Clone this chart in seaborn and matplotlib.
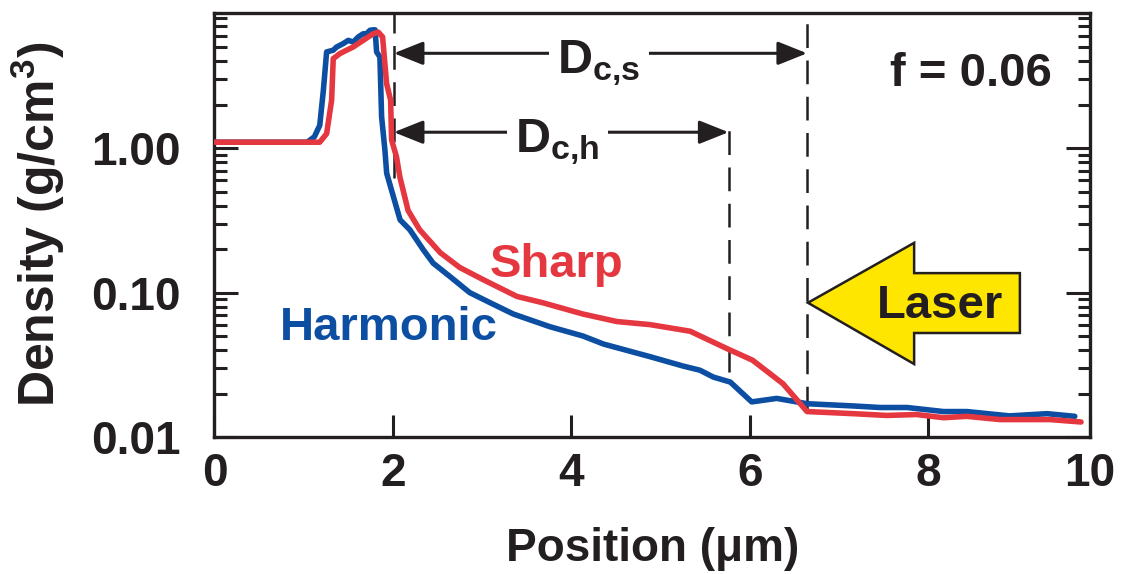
import numpy as np
import pandas as pd
import matplotlib
matplotlib.use("Agg")
import matplotlib.pyplot as plt
import seaborn as sns
from matplotlib.patches import Polygon
from matplotlib.ticker import FixedLocator, LogLocator, NullFormatter

# ---- data ----
harm_x = [0.0, 1.04, 1.12, 1.18, 1.22, 1.257, 1.331, 1.369, 1.443, 1.499, 1.555, 1.611,
          1.667, 1.705, 1.742, 1.779, 1.80, 1.817, 1.854, 1.873, 1.91, 1.93, 1.985,
          2.08, 2.19, 2.34, 2.45, 2.64, 2.86, 3.09, 3.35, 3.76, 4.13, 4.36, 4.88, 5.25,
          5.44, 5.59, 5.78, 6.02, 6.30, 6.64, 7.16, 7.46, 7.76, 8.17, 8.43, 8.91, 9.33, 9.64]
harm_y = [1.1, 1.1, 1.2, 1.44, 2.5, 4.64, 4.77, 5.02, 5.3, 5.58, 5.43, 5.89,
          6.2, 6.2, 6.55, 6.6, 6.6, 4.64, 4.28, 1.65, 0.97, 0.67, 0.51,
          0.319, 0.272, 0.198, 0.16, 0.129, 0.1, 0.085, 0.071, 0.058, 0.05, 0.044, 0.036, 0.031,
          0.029, 0.026, 0.024, 0.0175, 0.0185, 0.017, 0.0164, 0.016, 0.016, 0.015, 0.015, 0.014, 0.0145, 0.0139]

sharp_x = [0.0, 1.18, 1.257, 1.313, 1.331, 1.406, 1.481, 1.555, 1.611, 1.667, 1.723,
           1.779, 1.835, 1.884, 1.929, 1.974, 1.985, 2.04, 2.078, 2.17, 2.30, 2.53, 2.75,
           3.01, 3.39, 3.68, 4.13, 4.51, 4.88, 5.33, 5.74, 6.03, 6.37, 6.64, 7.16, 7.53,
           7.87, 8.17, 8.43, 8.80, 9.36, 9.71]
sharp_y = [1.1, 1.1, 1.26, 2.15, 4.17, 4.52, 4.77, 5.02, 5.3, 5.58, 5.89,
           6.2, 6.37, 5.89, 2.8, 2.15, 1.14, 0.87, 0.63, 0.37, 0.272, 0.189, 0.149,
           0.123, 0.094, 0.085, 0.071, 0.063, 0.06, 0.054, 0.041, 0.034, 0.0234, 0.015, 0.0145, 0.0141,
           0.0143, 0.0136, 0.0139, 0.0132, 0.0132, 0.0127]

x_tick_labels = ["0", "2", "4", "6", "8", "10"]
y_ticks = [0.01, 0.1, 1.0]
y_tick_labels = ["0.01", "0.10", "1.00"]

# vertical markers (position um)
x_dc_start = 2.01
x_dc_h = 5.76
x_dc_s = 6.64

BLUE = "#0b4ea2"
RED = "#e5373f"
INK = "#231f20"
YELLOW = "#ffe600"

sns.set_style("ticks")
plt.rcParams["font.family"] = ["Liberation Sans", "DejaVu Sans"]
plt.rcParams["font.weight"] = "bold"
plt.rcParams["mathtext.fontset"] = "custom"
plt.rcParams["mathtext.rm"] = "Liberation Sans:bold"
plt.rcParams["mathtext.bf"] = "Liberation Sans:bold"

df = pd.concat([
    pd.DataFrame({"pos": harm_x, "dens": harm_y, "case": "Harmonic"}),
    pd.DataFrame({"pos": sharp_x, "dens": sharp_y, "case": "Sharp"}),
])

fig = plt.figure(figsize=(11.21, 5.74), dpi=100)
ax = fig.add_axes([0.1913, 0.2387, 0.781, 0.7395])

xmax = 9.81
ymin, ymax = 0.01, 8.7

# dashed markers
dash = dict(color=INK, lw=1.8, linestyle=(0, (9.5, 5)), zorder=1)
ax.plot([x_dc_start, x_dc_start], [0.62, ymax], **dash)
ax.plot([x_dc_h, x_dc_h], [0.028, 1.56], **dash)
ax.plot([x_dc_s, x_dc_s], [0.0153, ymax], **dash)

sns.lineplot(data=df, x="pos", y="dens", hue="case", palette={"Harmonic": BLUE, "Sharp": RED},
             hue_order=["Harmonic", "Sharp"], sort=False, estimator=None, lw=4.0,
             legend=False, ax=ax, zorder=3)

ax.set_yscale("log")
ax.set_xlim(0, xmax)
ax.set_ylim(ymin, ymax)

ax.set_xticks([0, 2, 4, 6, 8, xmax])
ax.set_xticklabels(x_tick_labels)
ax.yaxis.set_major_locator(FixedLocator(y_ticks))
ax.set_yticklabels(y_tick_labels)
ax.yaxis.set_minor_locator(LogLocator(base=10, subs=np.arange(2, 10)))
ax.yaxis.set_minor_formatter(NullFormatter())

ax.tick_params(axis="x", direction="in", length=16, width=2.2, pad=11, labelsize=33,
               colors=INK, top=False)
ax.tick_params(axis="y", which="major", direction="in", length=17, width=2.2, pad=24,
               labelsize=33, colors=INK, left=True, right=True)
ax.tick_params(axis="y", which="minor", direction="in", length=9, width=2.2,
               left=True, right=True, colors=INK)
for s in ax.spines.values():
    s.set_linewidth(2.4)
    s.set_color(INK)
    s.set_visible(True)

ax.set_xlabel("Position (μm)", fontsize=33, fontweight="bold", color=INK, labelpad=22)
ax.set_ylabel(r"Density (g/cm$^{\mathbf{3}}$)", fontsize=36, fontweight="bold", color=INK,
              labelpad=18)

# double arrows
arrow_kw = dict(arrowstyle="<|-|>,head_length=1.8,head_width=0.72", color=INK, lw=2.2,
                shrinkA=0, shrinkB=0, mutation_scale=10)
ax.annotate("", xy=(x_dc_s, 4.54), xytext=(x_dc_start, 4.54), arrowprops=arrow_kw, zorder=2)
ax.annotate("", xy=(x_dc_h, 1.29), xytext=(x_dc_start, 1.29), arrowprops=arrow_kw, zorder=2)

box = dict(facecolor="white", edgecolor="none", pad=6)
ax.text(3.84, 3.31, r"$\mathbf{D_{c{,}s}}$", fontsize=35, color=INK, ha="left", va="baseline",
        bbox=box, zorder=4)
ax.text(3.37, 0.938, r"$\mathbf{D_{c{,}h}}$", fontsize=35, color=INK, ha="left", va="baseline",
        bbox=box, zorder=4)

ax.text(8.48, 3.28, "f = 0.06", fontsize=34, fontweight="bold", color=INK, ha="center", va="center")
ax.text(3.83, 0.128, "Sharp", fontsize=34, fontweight="bold", color=RED, ha="center", va="baseline")
ax.text(0.734, 0.0469, "Harmonic", fontsize=34, fontweight="bold", color=BLUE, ha="left", va="baseline")

# laser arrow
laser_pts = [(6.65, 0.085), (7.84, 0.221), (7.84, 0.1364), (9.025, 0.1364),
             (9.025, 0.0525), (7.84, 0.0525), (7.84, 0.032)]
ax.add_patch(Polygon(laser_pts, closed=True, facecolor=YELLOW, edgecolor=INK, lw=1.8, zorder=4))
ax.text(8.125, 0.0663, "Laser", fontsize=34, fontweight="bold", color=INK, ha="center",
        va="baseline", zorder=5)

fig.savefig("out.png", dpi=100)
